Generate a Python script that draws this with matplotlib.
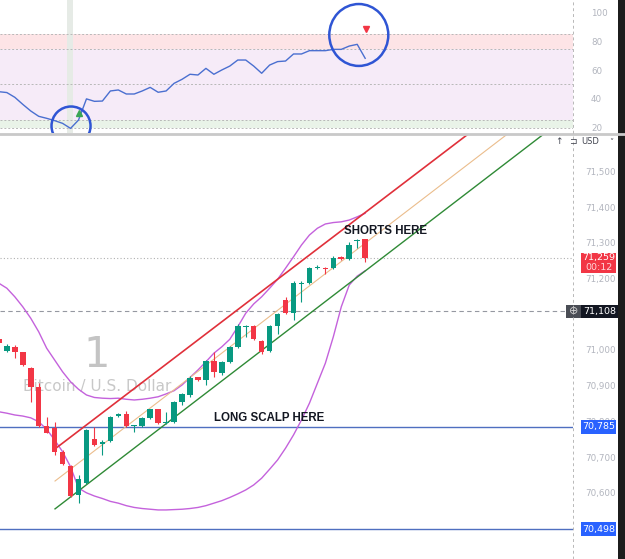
import matplotlib
matplotlib.use("Agg")
import matplotlib.pyplot as plt
import matplotlib.transforms as mtransforms
from matplotlib.patches import Rectangle, Ellipse
import numpy as np

# candles (BTC/USD, 1 min)
opens = [71030, 70996, 71009, 70993, 70949, 70897, 70787, 70781, 70715, 70675,
         70594, 70627, 70752, 70737, 70746, 70815, 70820, 70787, 70787, 70810,
         70834, 70795, 70799, 70855, 70874, 70923, 70916, 70969, 70935, 70966,
         71009, 71065, 71068, 71025, 70997, 71068, 71140, 71105, 71185, 71189,
         71229, 71231, 71229, 71261, 71254, 71306, 71310]
highs = [71037, 71017, 71013, 70995, 70953, 70907, 70813, 70799, 70720, 70678,
         70650, 70778, 70785, 70748, 70816, 70823, 70830, 70791, 70813, 70836,
         70836, 70827, 70858, 70879, 70926, 70925, 70972, 70995, 70968, 71011,
         71073, 71071, 71070, 71027, 71070, 71105, 71149, 71192, 71192, 71232,
         71238, 71233, 71263, 71263, 71303, 71310, 71312]
lows = [71014, 70994, 70977, 70955, 70855, 70785, 70767, 70706, 70678, 70589,
        70572, 70625, 70731, 70706, 70743, 70813, 70783, 70771, 70785, 70808,
        70793, 70793, 70796, 70846, 70869, 70914, 70902, 70925, 70930, 70963,
        71006, 71037, 71029, 70990, 70994, 71046, 71102, 71084, 71135, 71186,
        71226, 71213, 71226, 71252, 71251, 71287, 71247]
closes = [71019, 71011, 70994, 70958, 70897, 70787, 70768, 70715, 70681, 70592,
          70639, 70776, 70735, 70741, 70811, 70820, 70787, 70789, 70810, 70834,
          70795, 70799, 70855, 70877, 70921, 70916, 70969, 70937, 70966, 71009,
          71067, 71068, 71031, 70993, 71068, 71101, 71105, 71189, 71189, 71229,
          71232, 71228, 71257, 71254, 71294, 71308, 71259]

# bollinger bands
bb_upper = [71187, 71173, 71149, 71121, 71089, 71051, 71005, 70972, 70939, 70911,
            70890, 70874, 70867, 70865, 70864, 70865, 70862, 70860, 70862, 70865,
            70869, 70877, 70886, 70902, 70923, 70944, 70967, 70991, 71009, 71030,
            71065, 71103, 71129, 71149, 71173, 71198, 71229, 71261, 71294, 71322,
            71341, 71353, 71357, 71359, 71364, 71373, 71383]
bb_lower = [70827, 70823, 70818, 70815, 70810, 70799, 70778, 70748, 70715, 70673,
            70613, 70600, 70591, 70584, 70576, 70571, 70564, 70559, 70556, 70554,
            70552, 70552, 70553, 70554, 70556, 70559, 70564, 70571, 70578, 70587,
            70597, 70608, 70622, 70641, 70666, 70692, 70725, 70762, 70804, 70851,
            70907, 70963, 71037, 71121, 71182, 71207, 71222]

# RSI
rsi = [45.0, 44.4, 41.1, 36.2, 31.6, 27.9, 26.5, 24.9, 23.0, 19.5,
       25.3, 40.0, 38.3, 38.5, 45.5, 46.2, 43.4, 43.4, 45.5, 48.0,
       44.6, 45.5, 50.8, 53.6, 57.1, 56.6, 61.2, 57.1, 60.1, 62.8,
       67.0, 67.0, 62.8, 57.8, 63.5, 65.9, 66.3, 71.2, 71.2, 73.5,
       73.5, 73.5, 74.4, 74.4, 76.7, 77.9, 68.2]
rsi_levels = [85, 75, 50, 25, 20]

# drawn channel (start, end anchors)
chan_x = [7.05, 72]
chan_top = [70723, 71827]
chan_mid = [70633, 71744]
chan_bot = [70555, 71666]

# horizontal levels
level_long = 70785
level_low = 70498
level_mark = 71108
last_price = 71259

price_ticks = [70600, 70700, 70800, 70900, 71000, 71200, 71300, 71400, 71500]
rsi_ticks = [20, 40, 60, 80, 100]

UP = '#089981'
DOWN = '#f23645'
BLUE = '#2962ff'
TICKC = '#b2b5be'

W, H = 625, 559
fig = plt.figure(figsize=(W / 100, H / 100), dpi=100)
ax = fig.add_axes([0, 0, 573 / W, 425 / H])
ax_r = fig.add_axes([0, 426 / H, 573 / W, 133 / H])

x = np.arange(len(opens))
o = np.array(opens)
c = np.array(closes)
cols = [UP if cc >= oo else DOWN for oo, cc in zip(o, c)]
body_lo = np.minimum(o, c)
body_h = np.maximum(np.abs(c - o), 3)

# watermark
ax.text(12.3, 70986, '1', fontsize=30, color='#c4c4c4', ha='center', va='center', zorder=0)
ax.text(12.3, 70899, 'Bitcoin / U.S. Dollar', fontsize=11, color='#c8c8c8',
        ha='center', va='center', zorder=0)

# horizontal lines
ax.axhline(level_long, color='#4f6fc0', lw=1, zorder=1)
ax.axhline(level_low, color='#4f6fc0', lw=1, zorder=1)
ax.axhline(level_mark, color='#9598a1', lw=0.8, ls=(0, (4, 3)), zorder=1)
ax.axhline(last_price, color='#b0b0b0', lw=0.8, ls=(0, (1, 2)), zorder=1)

# bollinger
ax.plot(x, bb_upper, color='#c462dc', lw=1, zorder=2)
ax.plot(x, bb_lower, color='#c462dc', lw=1, zorder=2)

# channel
ax.plot(chan_x, chan_top, color='#e0303a', lw=1.2, zorder=2)
ax.plot(chan_x, chan_mid, color='#ebbd8c', lw=0.8, zorder=2)
ax.plot(chan_x, chan_bot, color='#2f8a36', lw=1.0, zorder=2)

# candles
ax.vlines(x, lows, highs, colors=cols, lw=0.8, zorder=3)
ax.bar(x, body_h, bottom=body_lo, width=0.7, color=cols, zorder=4)

ax.text(48.5, 71333, 'SHORTS HERE', fontsize=8.3, fontweight='bold', color='#131722',
        family='Liberation Sans', ha='center', va='center', zorder=5)
ax.text(34.0, 70810, 'LONG SCALP HERE', fontsize=8.3, fontweight='bold', color='#131722',
        family='Liberation Sans', ha='center', va='center', zorder=5)

ax.set_xlim(0.14, 72.1)
ax.set_ylim(70414.6, 71605)
ax.set_xticks([])
ax.yaxis.tick_right()
ax.set_yticks(price_ticks)
ax.set_yticklabels([f'{t:,}' for t in price_ticks])
ax.tick_params(axis='y', length=0, pad=9, labelsize=6.3, labelcolor=TICKC)
for s in ax.spines.values():
    s.set_visible(False)

# price labels on the scale
tr = mtransforms.blended_transform_factory(ax.transAxes, ax.transData)
for val, fc in [(level_long, BLUE), (level_low, BLUE)]:
    ax.add_patch(Rectangle((581 / 573, val - 19), 35 / 573, 38, transform=tr,
                           facecolor=fc, edgecolor='none', clip_on=False, zorder=6))
    ax.text(598.5 / 573, val, f'{val:,}', transform=tr, fontsize=6.8, color='white',
            ha='center', va='center', clip_on=False, zorder=7)

ax.add_patch(Rectangle((581 / 573, 71216), 35 / 573, 56, transform=tr,
                       facecolor=DOWN, edgecolor='none', clip_on=False, zorder=6))
ax.text(598.5 / 573, 71259, f'{last_price:,}', transform=tr, fontsize=6.8, color='white',
        ha='center', va='center', clip_on=False, zorder=7)
ax.text(598.5 / 573, 71232, '00:12', transform=tr, fontsize=6.8, color='#ffd6da',
        ha='center', va='center', clip_on=False, zorder=7)

ax.add_patch(Rectangle((566 / 573, level_mark - 19), 15 / 573, 38, transform=tr,
                       facecolor='#4a4d55', edgecolor='none', clip_on=False, zorder=6))
ax.add_patch(Rectangle((581 / 573, level_mark - 19), 37 / 573, 38, transform=tr,
                       facecolor='#131722', edgecolor='none', clip_on=False, zorder=6))
ax.text(573.5 / 573, level_mark, '\u2295', transform=tr, fontsize=8, color='#d0d0d0',
        ha='center', va='center', clip_on=False, zorder=7)
ax.text(599.5 / 573, level_mark, f'{level_mark:,}', transform=tr, fontsize=6.8,
        color='white', ha='center', va='center', clip_on=False, zorder=7)

# RSI panel
ax_r.axhspan(75, 85, color='#fde4e6', lw=0, zorder=0)
ax_r.axhspan(25, 75, color='#f6ebf8', lw=0, zorder=0)
ax_r.axhspan(20, 25, color='#e9f3e8', lw=0, zorder=0)
for lv in rsi_levels:
    ax_r.axhline(lv, color='#b8b8b8', lw=0.7, ls=(0, (2, 2)), zorder=1)
ax_r.axvspan(8.6, 9.3, color='#e6ebe6', lw=0, zorder=0.5)
ax_r.plot(x, rsi, color='#4a6fd0', lw=1, zorder=3)
ax_r.plot([10.0], [30.0], marker='^', color='#3aa655', ms=4, zorder=4)
ax_r.plot([46.1], [88.5], marker='v', color='#f23645', ms=4, zorder=4)
ax_r.add_patch(Ellipse((9.06, 21.2), 4.9, 27, fill=False, edgecolor='#2f55d4', lw=1.8, zorder=5))
ax_r.add_patch(Ellipse((45.2, 84.4), 7.41, 43, fill=False, edgecolor='#2f55d4', lw=1.8, zorder=5))

ax_r.set_xlim(0.14, 72.1)
ax_r.set_ylim(16.3, 108.7)
ax_r.set_xticks([])
ax_r.yaxis.tick_right()
ax_r.set_yticks(rsi_ticks)
ax_r.tick_params(axis='y', length=0, pad=13, labelsize=6.3, labelcolor=TICKC)
for s in ax_r.spines.values():
    s.set_visible(False)

# separator, scale border, header
fig.add_artist(plt.Line2D([0, 1], [1 - 134 / H, 1 - 134 / H], color='#c9c9c9', lw=2,
                          transform=fig.transFigure))
fig.add_artist(plt.Line2D([573 / W, 573 / W], [0, 1], color='#b8b8b8', lw=0.7,
                          ls=(0, (3, 3)), transform=fig.transFigure))
fig.text(559 / W, 1 - 142 / H, '\u2191', fontsize=6.5, color='#434651', ha='center', va='center')
fig.text(573 / W, 1 - 142 / H, '\u2290', fontsize=6.5, color='#434651', ha='center', va='center')
fig.text(590 / W, 1 - 142 / H, 'USD', fontsize=6, color='#434651', ha='center', va='center')
fig.text(611 / W, 1 - 142 / H, '\u02c5', fontsize=6, color='#434651', ha='center', va='center')
fig.add_artist(Rectangle((618 / W, 0), 7 / W, 1, transform=fig.transFigure,
                         facecolor='#1c1c1c', edgecolor='none'))

fig.savefig('out.png', dpi=100)
